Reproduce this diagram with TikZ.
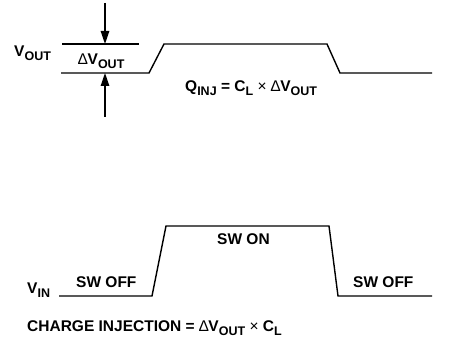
\documentclass[tikz,border=0pt]{standalone}
\usepackage{fontspec}
\setmainfont{Liberation Sans}
\usetikzlibrary{arrows.meta}
\newcommand{\lsub}[1]{\raisebox{-3.5pt}{\fontsize{12.5}{14}\selectfont #1}}
\newcommand{\thinsym}[1]{{\mdseries #1}}
\begin{document}
\begin{tikzpicture}[x=1pt,y=-1pt,
  lbl/.style={font=\fontsize{15.5}{18}\selectfont\bfseries, inner sep=0pt, anchor=base west},
  wave/.style={line width=1.4pt, line join=miter},
  arr/.style={line width=1.3pt, -{Triangle[length=13pt,width=8.5pt]}}]
\useasboundingbox (0,0) rectangle (453,352);
% top waveform
\coordinate (t0) at (61,73);
\coordinate (t1) at (149,73);
\coordinate (t2) at (164,44);
\coordinate (t3) at (327,44);
\coordinate (t4) at (340,73);
\coordinate (t5) at (432,73);
\draw[wave] (t0) -- (t1) -- (t2) -- (t3) -- (t4) -- (t5);
\coordinate (r0) at (62,44);
\coordinate (r1) at (139,44);
\draw[wave] (r0) -- (r1);
% arrows
\coordinate (a0) at (105,3);
\coordinate (a1) at (105,44);
\coordinate (b0) at (105,117);
\coordinate (b1) at (105,73);
\draw[arr] (a0) -- (a1);
\draw[arr] (b0) -- (b1);
% labels top
\node[lbl] (vout) at (14,57) {V\lsub{OUT}};
\node[lbl] (dvout) at (78,65) {\thinsym{∆}V\lsub{OUT}};
\node[lbl] (qinj) at (185,92) {Q\lsub{INJ} = C\lsub{L} \thinsym{×} \thinsym{∆}V\lsub{OUT}};
% bottom waveform
\coordinate (s0) at (59,296);
\coordinate (s1) at (152,296);
\coordinate (s2) at (166,226);
\coordinate (s3) at (329,226);
\coordinate (s4) at (338,296);
\coordinate (s5) at (432,296);
\draw[wave] (s0) -- (s1) -- (s2) -- (s3) -- (s4) -- (s5);
\node[lbl] (vin) at (27,294) {V\lsub{IN}};
\node[lbl] (swoff1) at (76,288) {SW OFF};
\node[lbl] (swon) at (217,245) {SW ON};
\node[lbl] (swoff2) at (353,288) {SW OFF};
\node[lbl] (ci) at (27,332) {CHARGE INJECTION = \thinsym{∆}V\lsub{OUT} \thinsym{×} C\lsub{L}};
\end{tikzpicture}
\end{document}
